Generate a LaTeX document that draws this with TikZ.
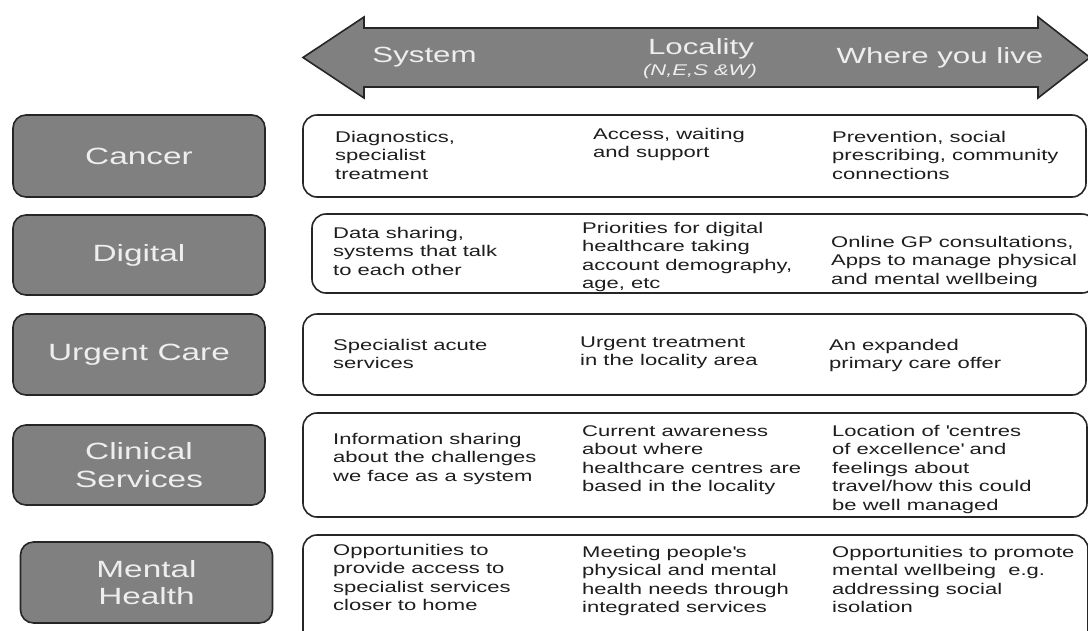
\documentclass[tikz,border=0pt]{standalone}
\usepackage{fontspec}
\setmainfont{Liberation Sans}[FakeStretch=1.42]
\definecolor{boxgray}{RGB}{128,128,128}
\definecolor{labwhite}{RGB}{238,238,238}
\definecolor{celltext}{RGB}{30,30,30}
\newcommand\cellfont{\fontsize{15.5}{18.5}\selectfont}
\newcommand\headfont{\fontsize{22}{26}\selectfont}
\newcommand\labfont{\fontsize{23.5}{27.5}\selectfont}
\tikzset{
  lab/.style={draw=black!85, line width=1.6pt, fill=boxgray, rounded corners=13pt,
    minimum width=252pt, align=center, text=labwhite, font=\labfont, inner sep=0pt},
  rowbox/.style={draw=black!85, line width=1.6pt, rounded corners=14pt, fill=white},
  cell/.style={anchor=north west, inner sep=0pt, align=left, text=celltext, font=\cellfont},
  head/.style={text=labwhite, font=\headfont, inner sep=0pt},
  arrowshape/.style={draw=black!85, line width=1.6pt, fill=boxgray, line join=miter}
}
\begin{document}
\begin{tikzpicture}[x=1pt,y=-1pt]
\clip (0,0) rectangle (1088,630);
\fill[white] (0,0) rectangle (1088,630);

% double arrow
\draw[arrowshape] (303,57.5) -- (364,17) -- (364,28) -- (1038,28) -- (1038,17)
  -- (1090,57.5) -- (1038,98) -- (1038,87) -- (364,87) -- (364,98) -- cycle;
\node[head] (system) at (424.5,57.5) {System};
\node[head] (locality) at (701,49) {Locality};
\node[text=labwhite, font=\fontsize{15.5}{18}\selectfont\itshape, inner sep=0pt] (nesw) at (700,71) {(N,E,S \&W)};
\node[head] (where) at (940,57.5) {Where you live};

% left labels
\node[lab, minimum height=82pt] (cancer) at (139,156) {Cancer};
\node[lab, minimum height=80pt] (digital) at (139,255) {Digital};
\node[lab, minimum height=81pt] (urgent) at (139,354.5) {Urgent Care};
\node[lab, minimum height=80pt] (clinical) at (139,465) {Clinical\\Services};
\node[lab, minimum height=81pt] (mental) at (146.5,582.5) {Mental\\Health};

% row boxes
\draw[rowbox] (303,115) rectangle (1086,197);
\draw[rowbox] (312,214) rectangle (1096,293);
\draw[rowbox] (303,314) rectangle (1086,395);
\draw[rowbox] (303,413) rectangle (1087,517);
\draw[rowbox] (303,535) rectangle (1088,645);

% cancer
\node[cell] (ca1) at (335,129) {\strut Diagnostics,\\specialist\\treatment};
\node[cell] (ca2) at (593,126) {\strut Access, waiting\\and support};
\node[cell] (ca3) at (832,129) {\strut Prevention, social\\prescribing, community\\connections};
% digital
\node[cell] (di1) at (333,225) {\strut Data sharing,\\systems that talk\\to each other};
\node[cell] (di2) at (582,220) {\strut Priorities for digital\\healthcare taking\\account demography,\\age, etc};
\node[cell] (di3) at (831,234) {\strut Online GP consultations,\\Apps to manage physical\\and mental wellbeing};
% urgent
\node[cell] (ur1) at (333,337) {\strut Specialist acute\\services};
\node[cell] (ur2) at (580,334) {\strut Urgent treatment\\in the locality area};
\node[cell] (ur3) at (829,337) {\strut An expanded\\primary care offer};
% clinical
\node[cell] (cl1) at (333,431) {\strut Information sharing\\about the challenges\\we face as a system};
\node[cell] (cl2) at (582,423) {\strut Current awareness\\about where\\healthcare centres are\\based in the locality};
\node[cell] (cl3) at (832,423) {\strut Location of \textquotesingle centres\\of excellence\textquotesingle\ and\\feelings about\\travel/how this could\\be well managed};
% mental
\node[cell] (me1) at (333,542) {\strut Opportunities to\\provide access to\\specialist services\\closer to home};
\node[cell] (me2) at (582,544) {\strut Meeting people\textquotesingle s\\physical and mental\\health needs through\\integrated services};
\node[cell] (me3) at (832,544) {\strut Opportunities to promote\\mental wellbeing\ \ e.g.\\addressing social\\isolation};
\end{tikzpicture}
\end{document}
